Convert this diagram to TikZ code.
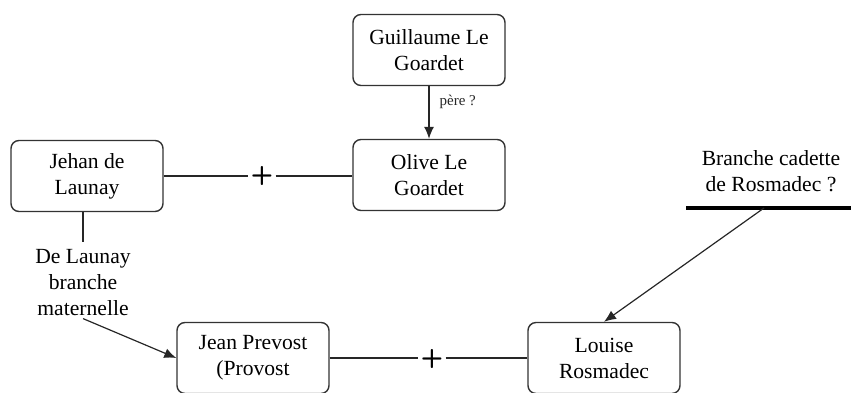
\documentclass[tikz,border=0pt]{standalone}
\usepackage{fontspec}
\setmainfont{Liberation Serif}
\usetikzlibrary{positioning, arrows.meta}

\begin{document}
\begin{tikzpicture}[
  x=0.5pt, y=-0.5pt,
  every node/.style={font=\fontsize{10.8}{13}\selectfont},
  personne/.style={
    rectangle, rounded corners=4pt,
    draw=black!80, line width=0.7pt,
    minimum width=76pt, minimum height=35.5pt,
    align=center, inner sep=2pt
  },
  lien/.style={line width=0.6pt, color=black!85},
  fleche/.style={lien, -{Latex[length=6pt, width=5pt]}},
  union/.style={font=\fontsize{13}{13}\sffamily\bfseries, inner sep=1pt},
  note/.style={align=center, inner sep=1pt},
  petit/.style={font=\fontsize{7.5}{9}\selectfont, inner sep=1pt}
]
  \useasboundingbox (0,0) rectangle (851,392);
  \clip (0,0) rectangle (851,392);

  % --- Personnes ---
  \node[personne] (guillaume) at (429,50)  {Guillaume Le\\Goardet};
  \node[personne] (olive)     at (429,175) {Olive Le\\Goardet};
  \node[personne] (jehan)     at (87,176)  {Jehan de\\Launay};
  \node[personne] (jean)      at (253,358) {Jean Prevost\\(Provost};
  \node[personne] (louise)    at (604,358) {Louise\\Rosmadec};

  % --- Unions ---
  \node[union] (plusA) at (262,176) {+};
  \node[union] (plusB) at (432,359) {+};

  % --- Notes ---
  \node[note] (launay)  at (83,283)  {De Launay\\branche\\maternelle};
  \node[note] (cadette) at (771,171) {Branche cadette\\de Rosmadec ?};
  \coordinate (cadG) at (686,208);
  \coordinate (cadD) at (851,208);
  \coordinate (cadM) at (764,208);

  % --- Liens ---
  \draw[fleche] (guillaume) -- node[petit, pos=0.3, right=4pt]{père ?} (olive);
  \draw[lien] (jehan.east) -- (jehan.east -| plusA.west);
  \draw[lien] (plusA.east |- jehan.east) -- (jehan.east -| olive.west);
  \draw[lien] (jean.east) -- (jean.east -| plusB.west);
  \draw[lien] (plusB.east |- jean.east) -- (louise.west);
  \draw[lien] (jehan.south -| launay.north) -- ++(0,30);
  \draw[fleche] (launay.south) -- (jean.west);
  \draw[line width=2pt] (cadG) -- (cadD);
  \draw[fleche] (cadM) -- (louise.north);
\end{tikzpicture}
\end{document}
